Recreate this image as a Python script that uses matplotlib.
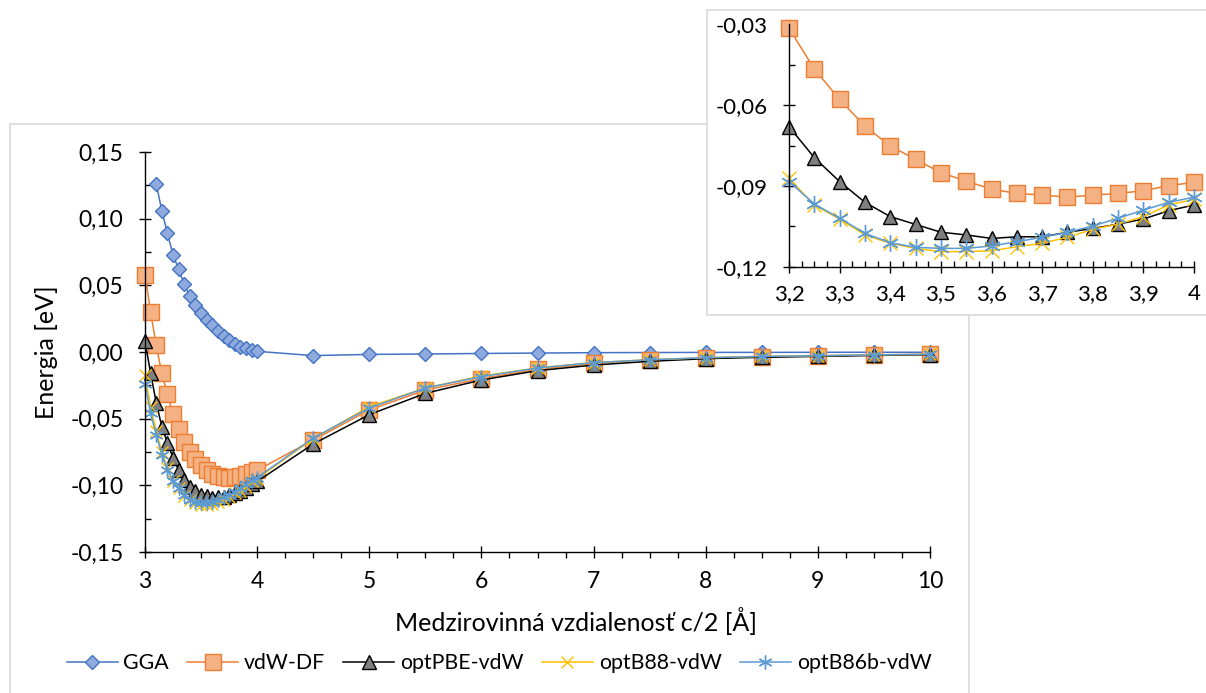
import numpy as np
import matplotlib
matplotlib.use('Agg')
import matplotlib.pyplot as plt
from matplotlib.patches import Rectangle
from matplotlib.ticker import MultipleLocator, FuncFormatter

plt.rcParams['font.family'] = ['Lato', 'DejaVu Sans']
plt.rcParams['font.size'] = 16

# interlayer distance c/2 [A]
distance = [3.00, 3.05, 3.10, 3.15, 3.20, 3.25, 3.30, 3.35, 3.40, 3.45, 3.50,
            3.55, 3.60, 3.65, 3.70, 3.75, 3.80, 3.85, 3.90, 3.95, 4.00,
            4.5, 5.0, 5.5, 6.0, 6.5, 7.0, 7.5, 8.0, 8.5, 9.0, 9.5, 10.0]

# energies [eV]
gga = [np.nan, np.nan, 0.126, 0.106, 0.089, 0.073, 0.062, 0.051, 0.042, 0.035, 0.029,
       0.024, 0.020, 0.016, 0.012, 0.009, 0.006, 0.004, 0.003, 0.0015, 0.0005,
       -0.0027, -0.0018, -0.0015, -0.0011, -0.0008, -0.0005, -0.0004, -0.0003, -0.0003,
       -0.0002, -0.0002, -0.0002]
vdw_df = [0.058, 0.030, 0.005, -0.016, -0.0315, -0.0466, -0.0579, -0.0678, -0.0752, -0.0801, -0.0851,
          -0.0882, -0.0912, -0.0928, -0.0934, -0.0942, -0.0934, -0.0928, -0.0918, -0.0899, -0.0887,
          -0.066, -0.0435, -0.0285, -0.020, -0.013, -0.0085, -0.006, -0.0045, -0.0035,
          -0.003, -0.0023, -0.0018]
opt_pbe = [0.008, -0.016, -0.038, -0.056, -0.068, -0.0795, -0.0884, -0.0961, -0.1014, -0.1043, -0.1072,
           -0.1082, -0.1095, -0.1089, -0.1089, -0.1072, -0.1058, -0.1042, -0.1023, -0.0992, -0.0971,
           -0.069, -0.047, -0.031, -0.021, -0.014, -0.0098, -0.007, -0.005, -0.004,
           -0.0033, -0.0026, -0.002]
opt_b88 = [-0.017, -0.041, -0.059, -0.075, -0.0872, -0.0971, -0.1023, -0.1082, -0.1113, -0.1132, -0.1144,
           -0.1144, -0.1141, -0.1126, -0.1113, -0.1091, -0.1061, -0.1042, -0.1014, -0.0971, -0.0950,
           -0.065, -0.041, -0.027, -0.018, -0.012, -0.008, -0.0058, -0.0043, -0.0033,
           -0.0028, -0.0021, -0.0017]
opt_b86b = [-0.024, -0.046, -0.062, -0.077, -0.0884, -0.0967, -0.1020, -0.1076, -0.1111, -0.1128, -0.1132,
            -0.1132, -0.1123, -0.1107, -0.1091, -0.1072, -0.1049, -0.1020, -0.0990, -0.0961, -0.0942,
            -0.0645, -0.042, -0.027, -0.0185, -0.012, -0.008, -0.0058, -0.0043, -0.0033,
            -0.0028, -0.0021, -0.0017]

labels = ['GGA', 'vdW-DF', 'optPBE-vdW', 'optB88-vdW', 'optB86b-vdW']
series = [gga, vdw_df, opt_pbe, opt_b88, opt_b86b]
styles = [
    dict(color='#4472c4', marker='D', mfc='#8faadc', mec='#4472c4'),
    dict(color='#ed7d31', marker='s', mfc='#f4b183', mec='#ed7d31'),
    dict(color='#000000', marker='^', mfc='#7f7f7f', mec='#000000'),
    dict(color='#ffc000', marker='x', mfc='#ffc000', mec='#ffc000'),
    dict(color='#5b9bd5', marker=(6, 2, 0), mfc='#5b9bd5', mec='#5b9bd5'),
]
main_ms = [7.5, 11, 9.5, 9, 10]
inset_ms = [8, 12, 10.5, 10, 12]

W, H = 1206, 693
fig = plt.figure(figsize=(W / 100, H / 100), dpi=100)


def px(x0, y0, x1, y1):
    return [x0 / W, 1 - y1 / H, (x1 - x0) / W, (y1 - y0) / H]


def comma(v, pos):
    s = ('%.2f' % v).replace('.', ',')
    return '0,00' if s == '-0,00' else s


def style_axes(ax):
    for s in ['top', 'right']:
        ax.spines[s].set_visible(False)
    for s in ['left', 'bottom']:
        ax.spines[s].set_color('black')
        ax.spines[s].set_linewidth(1.0)
    ax.patch.set_alpha(0)


# chart frames
fig.add_artist(Rectangle((10 / W, -0.01), 959 / W, 1 - 124 / H + 0.01, transform=fig.transFigure,
                         fill=False, edgecolor='#d9d9d9', lw=1.2, zorder=0))

ax = fig.add_axes(px(145, 152, 930, 552), zorder=1)
style_axes(ax)
x = np.array(distance)
for vals, lab, st, ms in zip(series, labels, styles, main_ms):
    ax.plot(x, vals, lw=1.1, ms=ms, mew=1.0, label=lab, clip_on=False, **st)
ax.set_xlim(3, 10)
ax.set_ylim(-0.15, 0.15)
ax.xaxis.set_major_locator(MultipleLocator(1))
ax.xaxis.set_minor_locator(MultipleLocator(0.25))
ax.yaxis.set_major_locator(MultipleLocator(0.05))
ax.yaxis.set_minor_locator(MultipleLocator(0.025))
ax.yaxis.set_major_formatter(FuncFormatter(comma))
ax.tick_params(axis='both', which='major', direction='inout', length=9, width=1, labelsize=16.5)
ax.tick_params(axis='x', which='major', pad=9)
ax.tick_params(axis='y', which='major', pad=11)
ax.tick_params(axis='x', which='minor', direction='out', length=4, width=1)
ax.tick_params(axis='y', which='minor', direction='in', length=4, width=1)

fig.text(47 / W, 1 - 352 / H, 'Energia [eV]', rotation=90, ha='center', va='center', fontsize=18)
fig.text(576 / W, 1 - 621 / H, 'Medzirovinná vzdialenosť c/2 [Å]', ha='center', va='center', fontsize=18)

handles, _ = ax.get_legend_handles_labels()
fig.legend(handles, labels, loc='center', bbox_to_anchor=(499 / W, 1 - 663 / H), ncol=5,
           frameon=False, fontsize=15.3, handlelength=2.4, handletextpad=0.28, columnspacing=0.85,
           borderaxespad=0)

# inset
fig.add_artist(Rectangle((707 / W, 1 - 315 / H), 1 - 707 / W + 0.01, 305 / H, transform=fig.transFigure,
                         facecolor='white', edgecolor='#d9d9d9', lw=1.2, zorder=2))
axin = fig.add_axes(px(789, 24.3, 1194, 266.7), zorder=3)
style_axes(axin)
sel = (x >= 3.2) & (x <= 4.0)
for vals, st, ms in zip(series[1:], styles[1:], inset_ms[1:]):
    axin.plot(x[sel], np.array(vals)[sel], lw=1.1, ms=ms, mew=1.0, clip_on=False, **st)
axin.set_xlim(3.2, 4.0)
axin.set_ylim(-0.12, -0.03)
axin.xaxis.set_major_locator(MultipleLocator(0.1))
axin.xaxis.set_minor_locator(MultipleLocator(0.025))
axin.yaxis.set_major_locator(MultipleLocator(0.03))
axin.yaxis.set_minor_locator(MultipleLocator(0.015))
axin.yaxis.set_major_formatter(FuncFormatter(comma))
axin.xaxis.set_major_formatter(FuncFormatter(lambda v, p: ('%g' % round(v, 2)).replace('.', ',')))
axin.tick_params(axis='both', which='major', direction='inout', length=9, width=1, labelsize=16)
axin.tick_params(axis='x', which='major', pad=8)
axin.tick_params(axis='y', which='major', pad=11)
axin.tick_params(axis='both', which='minor', direction='in', length=4, width=1)

fig.savefig('out.png', dpi=100)
